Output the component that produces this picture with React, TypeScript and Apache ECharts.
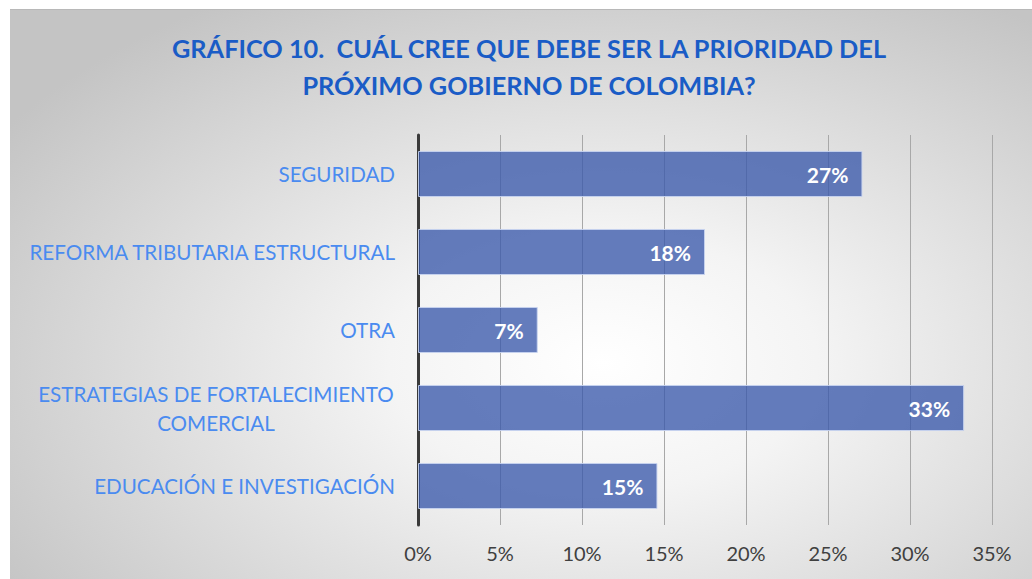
import React, { useEffect, useRef } from "react";
import * as echarts from "echarts";

const titleLines = [
  "GRÁFICO 10.  CUÁL CREE QUE DEBE SER LA PRIORIDAD DEL",
  "PRÓXIMO GOBIERNO DE COLOMBIA?",
];
const categories = [
  "EDUCACIÓN E INVESTIGACIÓN",
  "ESTRATEGIAS DE FORTALECIMIENTO\nCOMERCIAL",
  "OTRA",
  "REFORMA TRIBUTARIA ESTRUCTURAL",
  "SEGURIDAD",
];
const values = [14.6, 33.3, 7.3, 17.5, 27.1];
const axisMin = 0;
const axisMax = 35;
const axisStep = 5;

const FONT = "Lato, 'Open Sans', sans-serif";
const LABEL_BLUE = "#4A8BF0";

export default function App() {
  const ref = useRef<HTMLDivElement>(null);
  useEffect(() => {
    if (!ref.current) return;
    const chart = echarts.init(ref.current, undefined, { renderer: "svg" });
    chart.setOption({
      animation: false,
      backgroundColor: "transparent",
      title: {
        text: titleLines.join("\n"),
        left: 514,
        top: 14,
        textAlign: "center",
        textStyle: {
          fontFamily: FONT,
          fontWeight: "bold",
          fontSize: 25.3,
          lineHeight: 37,
          color: "#1A5CC6",
        },
      },
      grid: { left: 408, top: 125, width: 574, height: 390, containLabel: false },
      xAxis: {
        type: "value",
        min: axisMin,
        max: axisMax,
        interval: axisStep,
        axisLine: { show: false },
        axisTick: { show: false },
        axisLabel: {
          formatter: "{value}%",
          color: "#404040",
          fontFamily: FONT,
          fontSize: 20,
          margin: 18,
        },
        splitLine: { show: true, lineStyle: { color: "#a8a8a8", width: 1 } },
      },
      yAxis: {
        type: "category",
        data: categories,
        axisTick: { show: false },
        axisLine: { show: true, lineStyle: { color: "#3a3a3a", width: 3 } },
        axisLabel: {
          color: LABEL_BLUE,
          fontFamily: FONT,
          fontSize: 20.6,
          margin: 23,
          lineHeight: 29,
          formatter: (v: string) =>
            v.includes("\n")
              ? v
                  .split("\n")
                  .map((l) => `{c|${l}}`)
                  .join("\n")
              : v,
          rich: {
            c: {
              width: 358,
              align: "center",
              color: LABEL_BLUE,
              fontFamily: FONT,
              fontSize: 20.6,
              lineHeight: 29,
            },
          },
        },
      },
      series: [
        {
          type: "bar",
          data: values,
          barWidth: "59%",
          itemStyle: {
            color: "rgba(58, 88, 170, 0.78)",
            borderColor: "rgba(200, 212, 240, 0.9)",
            borderWidth: 1,
          },
          label: {
            show: true,
            position: "insideRight",
            distance: 14,
            formatter: (p: any) => `${Math.round(p.value)}%`,
            color: "#ffffff",
            fontWeight: "bold",
            fontFamily: FONT,
            fontSize: 21,
          },
        },
      ],
    });
    return () => chart.dispose();
  }, []);
  return (
    <div
      ref={ref}
      style={{
        position: "absolute",
        left: 10,
        top: 9,
        width: 1022,
        height: 570,
        borderTop: "1px solid #b8b8b8",
        boxSizing: "border-box",
        background:
          "radial-gradient(ellipse 70% 75% at 58% 62%, #ffffff 0%, #f4f4f4 30%, #c4c4c4 100%)",
      }}
    />
  );
}
